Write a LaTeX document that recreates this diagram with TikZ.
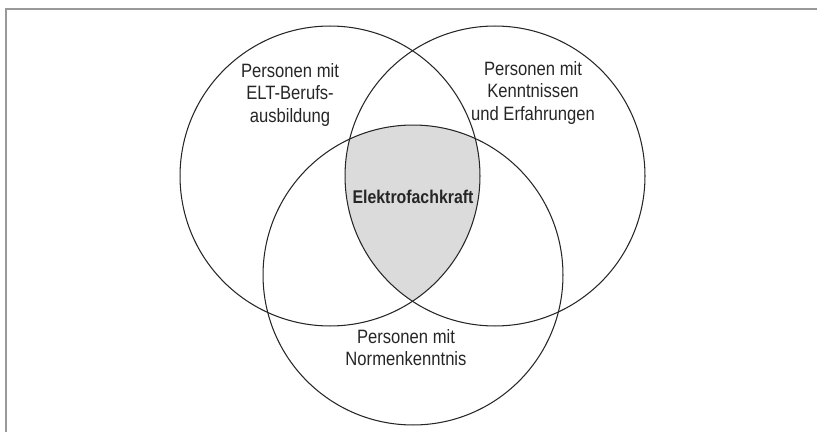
\documentclass[tikz,border=0pt]{standalone}
\usepackage{fontspec}
\setmainfont{Liberation Sans}[FakeStretch=0.86]
\tikzset{
  rahmen/.style={draw=black!40, line width=1.2pt},
  menge/.style={draw=black!85, circle, minimum size=6cm, line width=0.6pt},
  schnitt/.style={fill=black!14},
  txt/.style={align=center, text=black!85, font=\fontsize{11}{12.6}\selectfont},
}
\begin{document}
\begin{tikzpicture}[x=0.02cm, y=-0.02cm]
  \useasboundingbox (0,0) rectangle (817,432);
  % Rahmen
  \draw[rahmen] (6,432) -- (6,9) -- (817,9);
  % Schnittmenge aller drei Kreise
  \begin{scope}
    \clip (330,176) circle (3cm);
    \clip (495,176) circle (3cm);
    \fill[schnitt] (413,275) circle (3cm);
  \end{scope}
  % Mengen
  \node[menge] (elt)    at (330,176) {};
  \node[menge] (erf)    at (495,176) {};
  \node[menge] (normen) at (413,275) {};
  % Beschriftungen
  \node[txt] (t-elt)    at (290,95)  {Personen mit\\ELT-Berufs-\\ausbildung};
  \node[txt] (t-erf)    at (533,93)  {Personen mit\\Kenntnissen\\und Erfahrungen};
  \node[txt] (t-normen) at (406,348) {Personen mit\\Normenkenntnis};
  \node[txt, font=\fontsize{10.5}{12.6}\selectfont\bfseries] (t-fach) at (413,197) {Elektrofachkraft};
\end{tikzpicture}
\end{document}
